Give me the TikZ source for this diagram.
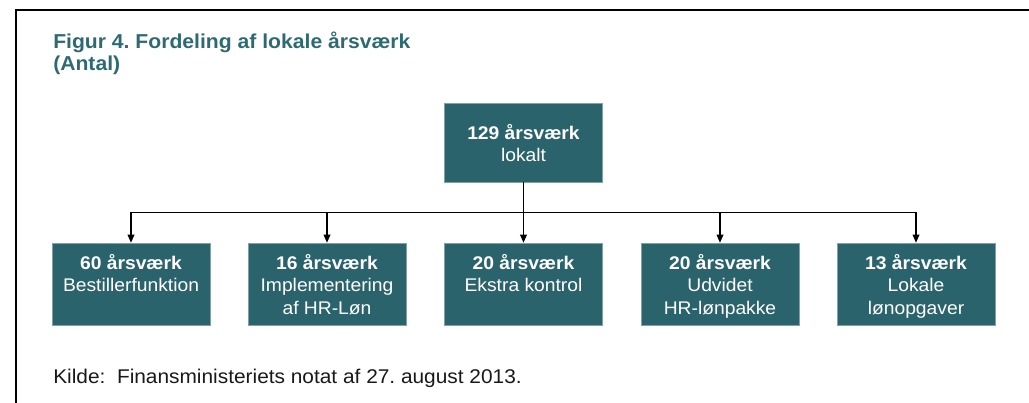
\documentclass[tikz,border=0pt]{standalone}
\usepackage{fontspec}
\setmainfont{Liberation Sans}[FakeStretch=1.05]
\usetikzlibrary{arrows.meta}
\definecolor{teal}{RGB}{43,99,108}
\definecolor{titleteal}{RGB}{46,106,115}
\frenchspacing
\tikzset{
  box/.style={fill=teal, draw=teal!60!white, line width=0.4pt, inner sep=0pt, text=white,
    minimum width=118.5pt, minimum height=61.5pt, font=\fontsize{13.76}{17}\selectfont},
  topbox/.style={box, minimum height=59.25pt},
  conn/.style={line width=1.4pt, draw=black},
  arr/.style={line width=0.9pt, draw=black, -{Triangle[length=6pt,width=5pt]}},
  ttl/.style={anchor=base west, inner sep=0pt, text=titleteal, font=\fontsize{15.1}{20}\selectfont\bfseries},
}
\newcommand{\bx}[2]{\parbox[c][61.5pt][t]{117pt}{\centering\rule{0pt}{19.5pt}\textbf{#1}\\#2}}
\begin{document}
\begin{tikzpicture}[x=0.75pt,y=-0.75pt]
\useasboundingbox (0,0) rectangle (1029,403);
% frame
\draw[line width=1.6pt] (1029,10) -- (16,10) -- (16,403);
% title
\node[ttl] (t1) at (53,49) {Figur 4. Fordeling af lokale årsværk};
\node[ttl] (t2) at (53,71) {(Antal)};
% boxes
\node[topbox] (top) at (523.5,142.5) {\parbox[c][59.25pt][t]{117pt}{\centering\rule{0pt}{27pt}\textbf{129 årsværk}\\lokalt}};
\node[box] (b1) at (131,284) {\bx{60 årsværk}{Bestillerfunktion}};
\node[box] (b2) at (327,284) {\bx{16 årsværk}{Implementering\\af HR-Løn}};
\node[box] (b3) at (523.5,284) {\bx{20 årsværk}{Ekstra kontrol}};
\node[box] (b4) at (720,284) {\bx{20 årsværk}{Udvidet\\HR-lønpakke}};
\node[box] (b5) at (916,284) {\bx{13 årsværk}{Lokale\\lønopgaver}};
% connectors
\draw[conn] (top.south) -- ++(0,30) coordinate (j);
\draw[line width=1.1pt] (j) -- (j -| b1.north);
\draw[line width=1.1pt] (j) -- (j -| b5.north);
\foreach \b in {b1,b2,b3,b4,b5} {
  \draw[arr] (j -| \b.north) -- (\b.north);
}
% source
\node[anchor=base west, inner sep=0pt, text=black!90, font=\fontsize{14.9}{17}\selectfont] (src) at (53,383) {Kilde:\ \ Finansministeriets notat af 27. august 2013.};
\end{tikzpicture}
\end{document}
